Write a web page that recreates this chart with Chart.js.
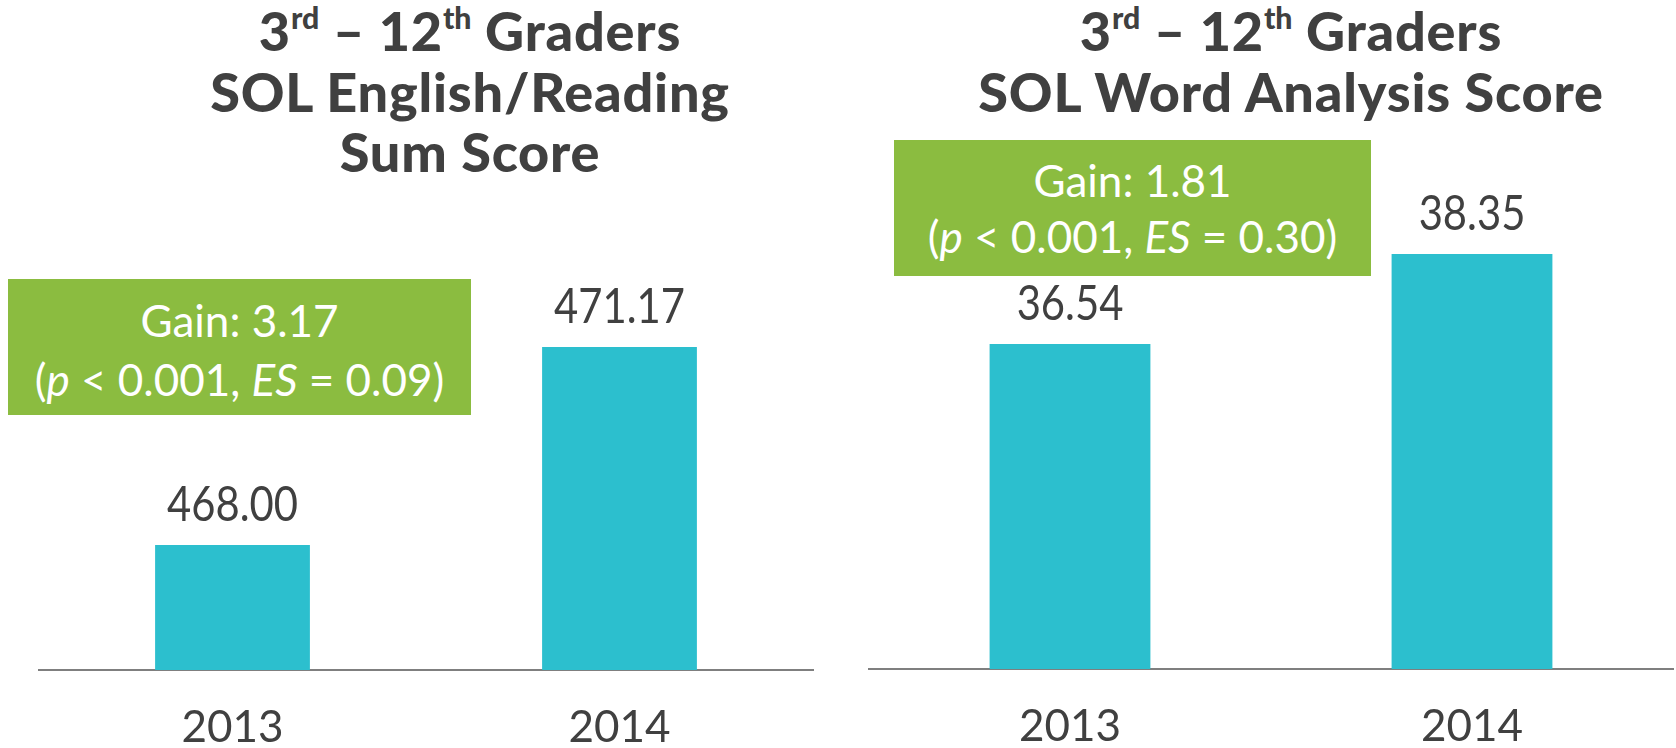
<!DOCTYPE html>
<html>
<head>
<meta charset="utf-8">
<script src="https://cdn.jsdelivr.net/npm/chart.js@4.4.0/dist/chart.umd.min.js"></script>
<style>
  html, body { margin: 0; padding: 0; background: #fff; }
  body { width: 1676px; height: 748px; position: relative; overflow: hidden; font-family: Lato, "Open Sans", sans-serif; }
  canvas { position: absolute; top: 0; }
  .title { position: absolute; top: 1px; width: 760px; text-align: center; color: #404040; font-weight: 900; font-size: 54px; letter-spacing: 0.8px; line-height: 60.5px; white-space: nowrap; }
  .title .sup { font-size: 0.56em; vertical-align: 0.72em; line-height: 0; letter-spacing: 0; }
  .gain { position: absolute; background: #8bbc40; color: #fff; text-align: center; font-size: 44px; box-sizing: border-box; padding-top: 12px; white-space: nowrap; }
</style>
</head>
<body>

<div class="title" id="title-left" style="left:90px"></div>
<div class="title" id="title-right" style="left:911px"></div>

<canvas id="chartLeft" width="838" height="787" style="left:0"></canvas>
<canvas id="chartRight" width="838" height="786" style="left:838px"></canvas>

<div class="gain" id="gain-left" style="left:8px; top:279px; width:463px; height:136px; line-height:59px;"></div>
<div class="gain" id="gain-right" style="left:894px; top:140px; width:477px; height:136px; line-height:56px;"></div>

<script>
// Datos
const years = ['2013', '2014'];
const readingScores = [468.00, 471.17];
const wordScores = [36.54, 38.35];
const readingAxis = [466, 474];
const wordAxis = [30, 40];
const readingStats = ['0.001', '0.09'];
const wordStats = ['0.001', '0.30'];

const TEAL = '#2cbfce';
const TEXT = '#404040';

// Títulos
const gradeLine = '3<span class="sup">rd</span> \u2013 12<span class="sup">th</span> Graders';
document.getElementById('title-left').innerHTML = gradeLine + '<br>SOL English/Reading<br>Sum Score';
document.getElementById('title-right').innerHTML = gradeLine + '<br>SOL Word Analysis Score';

// Caja de ganancia
function gainText(scores, stats) {
    const gain = (scores[1] - scores[0]).toFixed(2);
    return 'Gain: ' + gain + '<br>(<i>p</i> &lt; ' + stats[0] + ', <i>ES</i> = ' + stats[1] + ')';
}
document.getElementById('gain-left').innerHTML = gainText(readingScores, readingStats);
document.getElementById('gain-right').innerHTML = gainText(wordScores, wordStats);

// Etiquetas de valor sobre las barras (un poco condensadas)
const valueLabels = {
    id: 'valueLabels',
    afterDatasetsDraw(chart) {
        const ctx = chart.ctx;
        const meta = chart.getDatasetMeta(0);
        const data = chart.data.datasets[0].data;
        meta.data.forEach((bar, i) => {
            ctx.save();
            ctx.font = '48px Lato';
            ctx.fillStyle = TEXT;
            ctx.textAlign = 'center';
            ctx.textBaseline = 'alphabetic';
            ctx.translate(bar.x, bar.y - 24);
            ctx.scale(0.87, 1);
            ctx.fillText(data[i].toFixed(2), 0, 0);
            ctx.restore();
        });
    }
};

function makeChart(id, scores, axisRange, padding) {
    const ctx = document.getElementById(id).getContext('2d');
    return new Chart(ctx, {
        type: 'bar',
        data: {
            labels: years,
            datasets: [{
                data: scores,
                backgroundColor: TEAL,
                borderWidth: 0,
                barPercentage: 0.4,
                categoryPercentage: 1.0
            }]
        },
        options: {
            responsive: false,
            animation: false,
            layout: { padding: padding },
            plugins: {
                legend: { display: false },
                tooltip: { enabled: false }
            },
            scales: {
                x: {
                    grid: { display: false, drawTicks: false },
                    border: { display: true, color: '#7f7f7f', width: 2 },
                    ticks: {
                        color: TEXT,
                        padding: 36,
                        font: { family: 'Lato', size: 44, lineHeight: 1 }
                    }
                },
                y: {
                    display: false,
                    min: axisRange[0],
                    max: axisRange[1]
                }
            }
        },
        plugins: [valueLabels]
    });
}

makeChart('chartLeft', readingScores, readingAxis, { left: 39, right: 25, top: 170, bottom: 1 });
makeChart('chartRight', wordScores, wordAxis, { left: 31, right: 3, top: 172, bottom: 1 });
</script>
</body>
</html>
